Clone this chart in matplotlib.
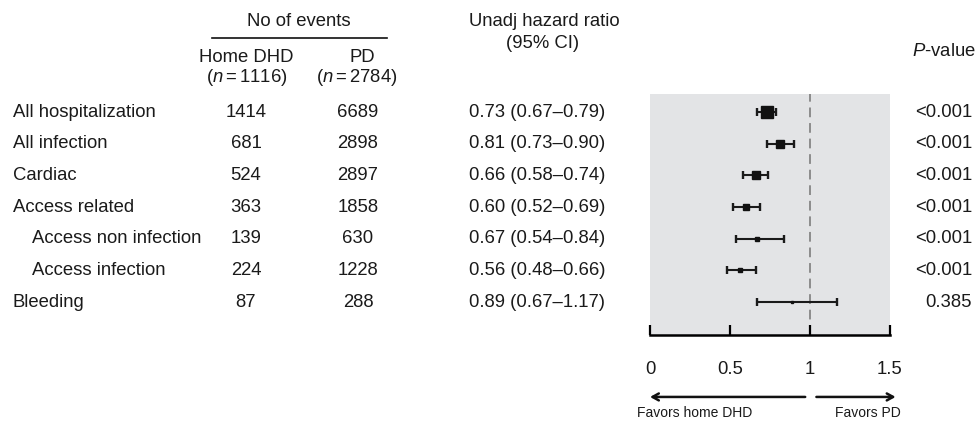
import numpy as np
import matplotlib
matplotlib.use('Agg')
import matplotlib.pyplot as plt
from matplotlib.transforms import blended_transform_factory

plt.rcParams['font.family'] = ['Liberation Sans', 'DejaVu Sans']
plt.rcParams['mathtext.fontset'] = 'custom'
plt.rcParams['mathtext.rm'] = 'Liberation Sans'
plt.rcParams['mathtext.it'] = 'Liberation Sans:italic'

# data
outcomes = ['All hospitalization', 'All infection', 'Cardiac', 'Access related',
            'Access non infection', 'Access infection', 'Bleeding']
is_sub = [False, False, False, False, True, True, False]
events_home = [1414, 681, 524, 363, 139, 224, 87]
events_pd = [6689, 2898, 2897, 1858, 630, 1228, 288]
hr = [0.73, 0.81, 0.66, 0.60, 0.67, 0.56, 0.89]
ci_low = [0.67, 0.73, 0.58, 0.52, 0.54, 0.48, 0.67]
ci_high = [0.79, 0.90, 0.74, 0.69, 0.84, 0.66, 1.17]
p_values = ['<0.001', '<0.001', '<0.001', '<0.001', '<0.001', '<0.001', '0.385']
n_home = 1116
n_pd = 2784
ticks = [0, 0.5, 1, 1.5]
tick_labels = ['0', '0.5', '1', '1.5']

txt = '#1a1a1a'
fs = 13.3

fig = plt.figure(figsize=(9.77, 4.24), dpi=100)

# full-figure axes in pixel units for the table part
tab = fig.add_axes([0, 0, 1, 1])
tab.set_xlim(0, 977)
tab.set_ylim(424, 0)
tab.axis('off')

# forest panel
ax = fig.add_axes([650 / 977, (424 - 335) / 424, 240 / 977, (335 - 94) / 424])
ax.set_facecolor('#e3e4e6')
n_rows = len(outcomes)
rows = np.arange(n_rows)
ax.set_xlim(0, 1.5)
ax.set_ylim(7.04, -0.57)

ax.axvline(1, color='#8c8c8c', lw=1.4, ls=(0, (5, 3)), zorder=1)

# square size grows with the total number of events
tot = np.array(events_home) + np.array(events_pd)
msizes = 0.088 * np.sqrt(tot)
for i in rows:
    ax.errorbar(hr[i], i, xerr=[[hr[i] - ci_low[i]], [ci_high[i] - hr[i]]],
                fmt='none', ecolor='#1a1a1a', elinewidth=1.5, capsize=3.2,
                capthick=1.7, zorder=3)
    ax.plot(hr[i], i, 's', color='#111111', ms=msizes[i], zorder=4)

for s in ['top', 'left', 'right']:
    ax.spines[s].set_visible(False)
ax.spines['bottom'].set_linewidth(1.8)
ax.set_yticks([])
ax.set_xticks(ticks)
ax.set_xticklabels(tick_labels, fontsize=fs, color=txt)
ax.tick_params(axis='x', direction='in', length=7, width=1.6, pad=19)

# arrows + favour labels below the axis
xt = ax.get_xaxis_transform()
ax.annotate('', xy=(0, -0.257), xytext=(0.97, -0.257), xycoords=xt,
            arrowprops=dict(arrowstyle='->,head_length=0.45,head_width=0.25',
                            lw=1.8, color='#111111', shrinkA=0, shrinkB=0),
            annotation_clip=False)
ax.annotate('', xy=(1.535, -0.257), xytext=(1.04, -0.257), xycoords=xt,
            arrowprops=dict(arrowstyle='->,head_length=0.45,head_width=0.25',
                            lw=1.8, color='#111111', shrinkA=0, shrinkB=0),
            annotation_clip=False)
ax.text(0.28, -0.324, 'Favors home DHD', transform=xt, ha='center', va='center',
        fontsize=10, color=txt)
ax.text(1.36, -0.324, 'Favors PD', transform=xt, ha='center', va='center',
        fontsize=10, color=txt)

# headers
tab.text(299, 21, 'No of events', ha='center', va='center', fontsize=fs, color=txt)
tab.plot([212, 387], [38, 38], color='#111111', lw=1.2)
tab.text(246, 58, 'Home DHD', ha='center', va='center', fontsize=fs, color=txt)
tab.text(247, 78, r'($n =$' + f'{n_home})', ha='center', va='center', fontsize=fs, color=txt)
tab.text(362, 58, 'PD', ha='center', va='center', fontsize=fs, color=txt)
tab.text(357, 78, r'($n =$' + f'{n_pd})', ha='center', va='center', fontsize=fs, color=txt)
tab.text(544, 22, 'Unadj hazard ratio', ha='center', va='center', fontsize=fs, color=txt)
tab.text(543, 43, '(95% CI)', ha='center', va='center', fontsize=fs, color=txt)
tab.text(976, 52, r'$P$-value', ha='right', va='center', fontsize=fs, color=txt)

# table rows, y tied to the forest axis rows
tr = blended_transform_factory(tab.transData, ax.transData)
for i in rows:
    x0 = 32 if is_sub[i] else 13
    tab.text(x0, i, outcomes[i], transform=tr, ha='left', va='center', fontsize=fs, color=txt)
    tab.text(246, i, str(events_home[i]), transform=tr, ha='center', va='center', fontsize=fs, color=txt)
    tab.text(358, i, str(events_pd[i]), transform=tr, ha='center', va='center', fontsize=fs, color=txt)
    tab.text(537, i, f'{hr[i]:.2f} ({ci_low[i]:.2f}\u2013{ci_high[i]:.2f})', transform=tr,
             ha='center', va='center', fontsize=fs, color=txt)
    tab.text(972, i, p_values[i], transform=tr, ha='right', va='center', fontsize=fs, color=txt)

fig.savefig('out.png', dpi=100)
